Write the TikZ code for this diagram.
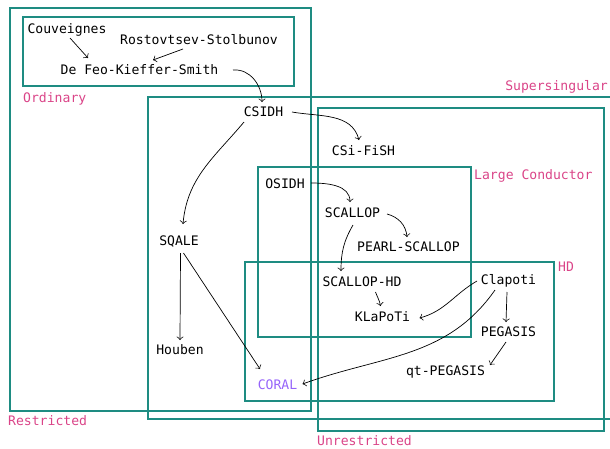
\documentclass[tikz,border=0pt]{standalone}
\usepackage{fontspec}
\setmonofont{DejaVu Sans Mono}
\usetikzlibrary{arrows.meta}
\definecolor{boxteal}{RGB}{30,140,130}
\definecolor{lblpink}{RGB}{218,68,136}
\definecolor{coralpurple}{RGB}{150,100,250}
\begin{document}
\begin{tikzpicture}[x=1pt,y=-1pt,
  every node/.style={font=\ttfamily\fontsize{13.1}{15}\selectfont},
  item/.style={inner sep=2pt,text height=9.5pt,text depth=0pt,anchor=center,text=black},
  lbl/.style={inner sep=0pt,text height=9.5pt,text depth=0pt,text=lblpink},
  region/.style={draw=boxteal,line width=1.3pt},
  arr/.style={draw=black,line width=0.7pt,-{Classical TikZ Rightarrow[length=3.5pt,width=7pt]}}]
\useasboundingbox (0,0) rectangle (610,448);
% regions
\draw[region] (10,8) rectangle (311,411);
\draw[region] (23,17) rectangle (294,86);
\draw[region] (148,97) rectangle (616,419);
\draw[region] (318,108) rectangle (604,431);
\draw[region] (258,167) rectangle (471,337);
\draw[region] (245,262) rectangle (554,401);
% region labels
\node[lbl,anchor=west] (lord) at (23,98) {Ordinary};
\node[lbl,anchor=west] (lres) at (8,421) {Restricted};
\node[lbl,anchor=east] (lsup) at (608,86) {Supersingular};
\node[lbl,anchor=west] (lunr) at (317,440.5) {Unrestricted};
\node[lbl,anchor=west] (llc) at (474,175) {Large Conductor};
\node[lbl,anchor=west] (lhd) at (558,267) {HD};
% items
\node[item] (couv) at (67,29) {Couveignes};
\node[item] (rost) at (199,40) {Rostovtsev-Stolbunov};
\node[item] (dfks) at (139.5,70) {De Feo-Kieffer-Smith};
\node[item] (csidh) at (263.5,112) {CSIDH};
\node[item] (csifish) at (363.5,151) {CSi-FiSH};
\node[item] (osidh) at (285,184) {OSIDH};
\node[item] (scallop) at (352.5,213) {SCALLOP};
\node[item] (pearl) at (408.5,247) {PEARL-SCALLOP};
\node[item] (sqale) at (179,241) {SQALE};
\node[item] (scallophd) at (362,282) {SCALLOP-HD};
\node[item] (clapoti) at (508.5,280) {Clapoti};
\node[item] (klapoti) at (382.5,317) {KLaPoTi};
\node[item] (pegasis) at (508.5,332) {PEGASIS};
\node[item] (houben) at (180,350) {Houben};
\node[item] (qtpeg) at (445.5,371) {qt-PEGASIS};
\node[item,text=coralpurple] (coral) at (277.5,385) {CORAL};
% connectors
\draw[arr] ([shift={(3,9)}]couv.center) -- ([shift={(-51.5,-12)}]dfks.center);
\draw[arr] ([shift={(-16,9)}]rost.center) -- ([shift={(13.5,-10)}]dfks.center);
\draw[arr] ([shift={(93.5,0)}]dfks.center) to[out=5,in=90] ([shift={(-1.5,-10)}]csidh.center);
\draw[arr] ([shift={(28.5,0)}]csidh.center) to[out=-10,in=105] ([shift={(-4.5,-11)}]csifish.center);
\draw[arr] ([shift={(-19.5,10)}]csidh.center) to[out=-130,in=85] ([shift={(4,-17)}]sqale.center);
\draw[arr] ([shift={(26,-1)}]osidh.center) to[out=0,in=90] ([shift={(-2.5,-11)}]scallop.center);
\draw[arr] ([shift={(34.5,1)}]scallop.center) to[out=-15,in=95] ([shift={(-1.5,-10)}]pearl.center);
\draw[arr] ([shift={(0.5,12)}]scallop.center) to[out=-120,in=90] ([shift={(-21,-11)}]scallophd.center);
\draw[arr] ([shift={(13.5,10)}]scallophd.center) to[out=-70,in=100] ([shift={(-2,-11)}]klapoti.center);
\draw[arr] ([shift={(-31.5,1)}]clapoti.center) to[out=210,in=15] ([shift={(37,1)}]klapoti.center);
\draw[arr] ([shift={(-13.5,10)}]clapoti.center) to[out=235,in=20] ([shift={(25,-1)}]coral.center);
\draw[arr] ([shift={(-1.5,12)}]clapoti.center) -- ([shift={(-2.5,-10)}]pegasis.center);
\draw[arr] ([shift={(-2.5,10)}]pegasis.center) -- ([shift={(44.5,-6)}]qtpeg.center);
\draw[arr] ([shift={(1.5,12)}]sqale.center) -- ([shift={(0,-10)}]houben.center);
\draw[arr] ([shift={(4.5,12)}]sqale.center) -- ([shift={(-17.5,-16)}]coral.center);
\end{tikzpicture}
\end{document}
